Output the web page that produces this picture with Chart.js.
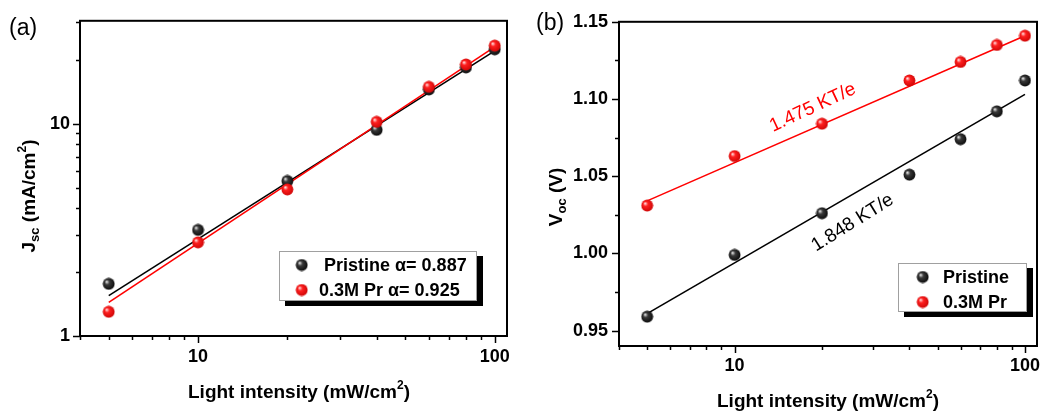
<!DOCTYPE html>
<html><head><meta charset="utf-8">
<script src="https://cdn.jsdelivr.net/npm/chart.js@4/dist/chart.umd.min.js"></script>
<style>
html,body{margin:0;padding:0;background:#fff;width:1049px;height:412px;overflow:hidden}
#wa{position:absolute;left:0;top:0;width:520px;height:412px}
#wb{position:absolute;left:520px;top:0;width:529px;height:412px}
</style></head><body>
<div id="wa"><canvas id="ca"></canvas></div>
<div id="wb"><canvas id="cb"></canvas></div>
<script>
// ---- data ----
const intensity = [5, 10, 20, 40, 60, 80, 100];
const jscPristine = [1.76, 3.16, 5.37, 9.35, 14.5, 18.4, 22.4];
const jscPr = [1.30, 2.76, 4.90, 10.2, 14.9, 19.0, 23.3];
const jscFitX = [5, 100];
const jscFitPristine = [1.55, 22.0];
const jscFitPr = [1.44, 23.0];
const vocPristine = [0.959, 0.999, 1.026, 1.051, 1.074, 1.092, 1.112];
const vocPr = [1.031, 1.063, 1.084, 1.112, 1.124, 1.135, 1.141];
const vocFitX = [5, 100];
const vocFitPristine = [0.961, 1.103];
const vocFitPr = [1.034, 1.141];
const xTickLabels = [10, 100];
const jscTickLabels = [1, 10];
const vocTickLabels = [0.95, 1.00, 1.05, 1.10, 1.15];
const legendA = ['Pristine \u03b1= 0.887', '0.3M Pr \u03b1= 0.925'];
const legendB = ['Pristine', '0.3M Pr'];
const slopeLabels = ['1.475 KT/e', '1.848 KT/e'];
const slopeLabelX = [18.6, 25.5];
const slopeLabelY = [1.0944, 1.0198];

const F = '"Liberation Sans", Arial, Helvetica, sans-serif';

function sphere(hi, base, dark) {
  const s = 13, c = document.createElement('canvas');
  c.width = s; c.height = s;
  const g = c.getContext('2d');
  const grd = g.createRadialGradient(4.3, 4.3, 0.3, 6.5, 6.5, 7.2);
  grd.addColorStop(0, hi); grd.addColorStop(0.3, base); grd.addColorStop(1, dark);
  g.fillStyle = grd; g.beginPath(); g.arc(6.5, 6.5, 5.9, 0, Math.PI * 2); g.fill();
  return c;
}
const sphBlack = sphere('#e8e8e8', '#3a3a3a', '#000000');
const sphRed = sphere('#ffe0e0', '#ff2020', '#c40000');

const pts = (xs, ys) => xs.map((x, i) => ({x: x, y: ys[i]}));
const near = (v, arr, eps) => arr.some(t => Math.abs(t - v) < eps);

function rich(ctx, parts, x, y, rot) {
  ctx.save(); ctx.translate(x, y); ctx.rotate(rot);
  ctx.textBaseline = 'alphabetic'; ctx.textAlign = 'left'; ctx.fillStyle = '#000';
  let w = 0;
  parts.forEach(p => { ctx.font = 'bold ' + p[1] + 'px ' + F; w += ctx.measureText(p[0]).width; });
  let cx = -w / 2;
  parts.forEach(p => { ctx.font = 'bold ' + p[1] + 'px ' + F; ctx.fillText(p[0], cx, p[2]); cx += ctx.measureText(p[0]).width; });
  ctx.restore();
}

function drawLegend(ctx, box, items) {
  ctx.save();
  ctx.fillStyle = '#000'; ctx.fillRect(box.x + 6, box.y + 5, box.w, box.h);
  ctx.fillStyle = '#fff'; ctx.fillRect(box.x, box.y, box.w, box.h);
  ctx.strokeStyle = '#a0a0a0'; ctx.lineWidth = 1; ctx.strokeRect(box.x + 0.5, box.y + 0.5, box.w - 1, box.h - 1);
  ctx.font = 'bold 18px ' + F; ctx.fillStyle = '#000'; ctx.textBaseline = 'middle'; ctx.textAlign = 'left';
  items.forEach(it => {
    ctx.drawImage(it.img, it.mx - 6.5, it.y - 6.5);
    ctx.fillText(it.text, it.tx, it.y + 1);
  });
  ctx.restore();
}

function drawFrameAndTicks(chart, xMinor, yMinor, xMajor, yMajor) {
  const ctx = chart.ctx, a = chart.chartArea;
  ctx.save();
  ctx.strokeStyle = '#000';
  ctx.lineWidth = 1.5;
  const xs = chart.scales.x, ys = chart.scales.y;
  xs.ticks.forEach(t => {
    if (!xMinor(t.value)) return;
    const px = Math.round(xs.getPixelForValue(t.value)) + 0.5;
    const len = xMajor(t.value) ? 7 : 4;
    ctx.beginPath(); ctx.moveTo(px, a.bottom); ctx.lineTo(px, a.bottom + len); ctx.stroke();
  });
  ys.ticks.forEach(t => {
    if (!yMinor(t.value)) return;
    const py = Math.round(ys.getPixelForValue(t.value)) + 0.5;
    const len = yMajor(t.value) ? 7 : 4;
    ctx.beginPath(); ctx.moveTo(a.left, py); ctx.lineTo(a.left - len, py); ctx.stroke();
  });
  ctx.lineWidth = 2;
  ctx.strokeRect(a.left, a.top, a.right - a.left, a.bottom - a.top);
  ctx.restore();
}

const isLogTick = v => { const m = v / Math.pow(10, Math.floor(Math.log10(v) + 1e-9)); return Math.abs(m - Math.round(m)) < 1e-6; };

function baseScale(type, min, max, pad, labels, eps, fmt) {
  return {
    type: type, min: min, max: max,
    grid: {display: false, drawTicks: false},
    border: {display: false},
    ticks: {
      autoSkip: false, maxRotation: 0, minRotation: 0, padding: pad, color: '#000',
      font: {family: F, size: 18, weight: 'bold'},
      callback: v => near(v, labels, eps) ? fmt(v) : ''
    }
  };
}

// ---------- Chart (a) ----------
const xa = baseScale('logarithmic', 4, 110, 10, xTickLabels, 1e-9, v => String(v));
xa.afterFit = s => { s.height = 76; };
const ya = baseScale('logarithmic', 1, 30.5, 10, jscTickLabels, 1e-9, v => String(v));
ya.afterFit = s => { s.width = 80; };

new Chart(document.getElementById('ca'), {
  type: 'scatter',
  data: {datasets: [
    {label: 'Pristine', data: pts(intensity, jscPristine), pointStyle: sphBlack, pointRadius: 6, showLine: false, order: 1},
    {label: '0.3M Pr', data: pts(intensity, jscPr), pointStyle: sphRed, pointRadius: 6, showLine: false, order: 0},
    {label: 'fit Pristine', data: pts(jscFitX, jscFitPristine), showLine: true, borderColor: '#000', borderWidth: 1.6, pointRadius: 0, order: 3},
    {label: 'fit Pr', data: pts(jscFitX, jscFitPr), showLine: true, borderColor: '#ff0000', borderWidth: 1.6, pointRadius: 0, order: 2}
  ]},
  options: {
    responsive: true, maintainAspectRatio: false, animation: false, events: [],
    layout: {padding: {top: 17, right: 13, left: 0, bottom: 0}},
    plugins: {legend: {display: false}, tooltip: {enabled: false}},
    scales: {x: xa, y: ya}
  },
  plugins: [{
    id: 'decorA',
    afterDraw(chart) {
      const ctx = chart.ctx, a = chart.chartArea;
      drawFrameAndTicks(chart, isLogTick, isLogTick, v => near(v, xTickLabels, 1e-9), v => near(v, jscTickLabels, 1e-9));
      rich(ctx, [['Light intensity (mW/cm', 19, 0], ['2', 12, -9], [')', 19, 0]], 299, 398, 0);
      rich(ctx, [['J', 19, 0], ['sc', 13, 4], [' (mA/cm', 19, 0], ['2', 12, -9], [')', 19, 0]], 35, 196, -Math.PI / 2);
      ctx.save(); ctx.font = '23px ' + F; ctx.fillStyle = '#000'; ctx.textBaseline = 'alphabetic'; ctx.fillText('(a)', 9, 35); ctx.restore();
      drawLegend(ctx, {x: 279, y: 251, w: 198, h: 50}, [
        {img: sphBlack, mx: 301.7, y: 265, text: legendA[0], tx: 324},
        {img: sphRed, mx: 301.7, y: 290, text: legendA[1], tx: 319}
      ]);
    }
  }]
});

// ---------- Chart (b) ----------
const xb = baseScale('logarithmic', 4, 110, 9, xTickLabels, 1e-9, v => String(v));
xb.afterFit = s => { s.height = 66; };
const yb = baseScale('linear', 0.94, 1.15, 11, vocTickLabels, 1e-6, v => v.toFixed(2));
yb.ticks.stepSize = 0.025;
yb.ticks.includeBounds = false;
yb.afterFit = s => { s.width = 99; };
const isQuarter = v => Math.abs(v / 0.025 - Math.round(v / 0.025)) < 1e-6;

new Chart(document.getElementById('cb'), {
  type: 'scatter',
  data: {datasets: [
    {label: 'Pristine', data: pts(intensity, vocPristine), pointStyle: sphBlack, pointRadius: 6, showLine: false, order: 1},
    {label: '0.3M Pr', data: pts(intensity, vocPr), pointStyle: sphRed, pointRadius: 6, showLine: false, order: 0},
    {label: 'fit Pristine', data: pts(vocFitX, vocFitPristine), showLine: true, borderColor: '#000', borderWidth: 1.6, pointRadius: 0, order: 3},
    {label: 'fit Pr', data: pts(vocFitX, vocFitPr), showLine: true, borderColor: '#ff0000', borderWidth: 1.6, pointRadius: 0, order: 2}
  ]},
  options: {
    responsive: true, maintainAspectRatio: false, animation: false, events: [],
    layout: {padding: {top: 21, right: 12, left: 0, bottom: 0}},
    plugins: {legend: {display: false}, tooltip: {enabled: false}},
    scales: {x: xb, y: yb}
  },
  plugins: [{
    id: 'decorB',
    afterDraw(chart) {
      const ctx = chart.ctx, a = chart.chartArea, sx = chart.scales.x, sy = chart.scales.y;
      drawFrameAndTicks(chart, isLogTick, isQuarter, v => near(v, xTickLabels, 1e-9), v => near(v, vocTickLabels, 1e-6));
      rich(ctx, [['Light intensity (mW/cm', 19, 0], ['2', 12, -9], [')', 19, 0]], (a.left + a.right) / 2, 407, 0);
      rich(ctx, [['V', 19, 0], ['oc', 13, 4], [' (V)', 19, 0]], 42, 197, -Math.PI / 2);
      ctx.save(); ctx.font = '23px ' + F; ctx.fillStyle = '#000'; ctx.textBaseline = 'alphabetic'; ctx.fillText('(b)', 16, 30); ctx.restore();
      const colors = ['#ff0000', '#000000'], angles = [-25, -32];
      slopeLabels.forEach((t, i) => {
        ctx.save();
        ctx.translate(sx.getPixelForValue(slopeLabelX[i]), sy.getPixelForValue(slopeLabelY[i]));
        ctx.rotate(angles[i] * Math.PI / 180);
        ctx.font = '19px ' + F; ctx.fillStyle = colors[i]; ctx.textAlign = 'center'; ctx.textBaseline = 'middle';
        ctx.fillText(t, 0, 0);
        ctx.restore();
      });
      drawLegend(ctx, {x: 378, y: 263, w: 129, h: 49}, [
        {img: sphBlack, mx: 402.7, y: 277, text: legendB[0], tx: 423},
        {img: sphRed, mx: 402.7, y: 302, text: legendB[1], tx: 423}
      ]);
    }
  }]
});
</script>
</body></html>
